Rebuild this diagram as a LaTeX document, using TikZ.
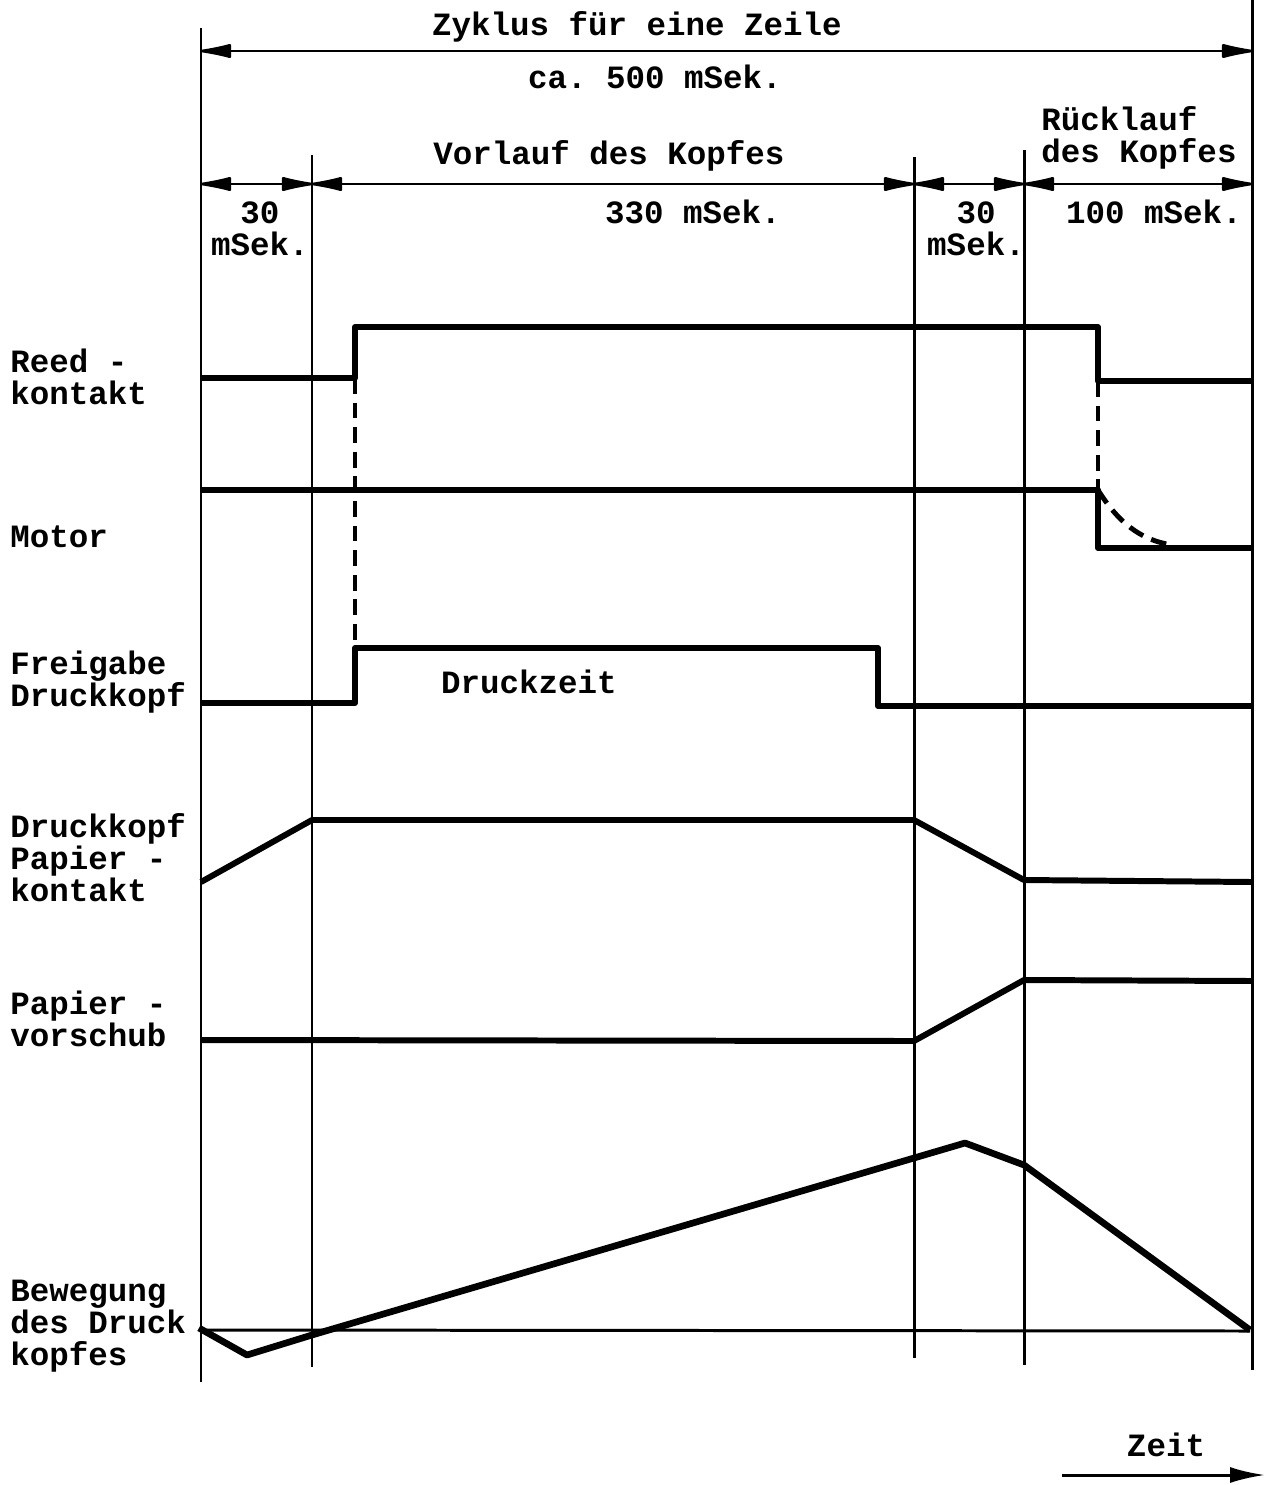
\documentclass[tikz,border=0pt]{standalone}
\usepackage{fontspec}
\setmonofont{Liberation Mono}
\usetikzlibrary{arrows.meta}
\tikzset{
  gridline/.style={draw=black,line width=1.7pt},
  sig/.style={draw=black,line width=3.4pt,line join=round},
  sigdash/.style={draw=black,line width=2.2pt,dash pattern=on 9pt off 5pt},
  dimline/.style={draw=black,line width=1.6pt,{Latex[length=8mm,width=3mm,round]}-{Latex[length=8mm,width=3mm,round]}},
  timearrow/.style={draw=black,line width=1.7pt,-{Latex[length=7mm,width=3.2mm]}},
  lbl/.style={font=\ttfamily\bfseries\fontsize{18.5}{18.2}\selectfont,inner sep=0pt,align=left}
}

\begin{document}
\begin{tikzpicture}[x=0.02cm,y=-0.02cm]
  \useasboundingbox (0,0) rectangle (1267,1485);
  \draw[gridline] (201,28)--(201,1382);
  \draw[gridline] (312,155)--(312,1367);
  \draw[gridline] (914,157)--(914,1358);
  \draw[gridline] (1024,150)--(1024,1365);
  \draw[gridline] (1252,0)--(1252,1370);
  \draw[dimline] (201,51)--(1252,51);
  \draw[dimline] (201,184)--(312,184);
  \draw[dimline] (312,184)--(914,184);
  \draw[dimline] (914,184)--(1024,184);
  \draw[dimline] (1024,184)--(1252,184);
  \node[lbl] (zyklus) at (637,27) {Zyklus für eine Zeile};
  \node[lbl] (total) at (655,77) {ca. 500 mSek.};
  \node[lbl] (vorlauf) at (609,156) {Vorlauf des Kopfes};
  \node[lbl] (ruecklauf) at (1139,138) {Rücklauf\\des Kopfes};
  \node[lbl,align=center] (tA) at (260,229) {30\\mSek.};
  \node[lbl] (tB) at (693,212) {330 mSek.};
  \node[lbl,align=center] (tC) at (976,229) {30\\mSek.};
  \node[lbl] (tD) at (1154,212) {100 mSek.};
  \node[lbl,anchor=west] (reed) at (10,377) {Reed -\\kontakt};
  \node[lbl,anchor=west] (motor) at (10,537) {Motor};
  \node[lbl,anchor=west] (freigabe) at (10,682) {Freigabe\\Druckkopf};
  \node[lbl,anchor=west] (kontakt) at (10,858) {Druckkopf\\Papier -\\kontakt};
  \node[lbl,anchor=west] (vorschub) at (10,1019) {Papier -\\vorschub};
  \node[lbl,anchor=west] (bewegung) at (10,1326) {Bewegung\\des Druck\\kopfes};
  \node[lbl] (druckzeit) at (529,682) {Druckzeit};
  \draw[sig] (201,378)--(355,378)--(355,327)--(1098,327)--(1098,381)--(1252,381);
  \draw[sig] (201,490)--(1098,490)--(1098,548)--(1252,548);
  \draw[sigdash] (355,378)--(355,648);
  \draw[sigdash] (1098,381)--(1098,490);
  \draw[sigdash,line width=2.8pt] (1098,490) .. controls (1118,522) and (1140,540) .. (1172,545);
  \draw[sig] (201,703)--(355,703)--(355,648)--(878,648)--(878,706)--(1252,706);
  \draw[sig] (201,882)--(312,820)--(914,820)--(1024,880)--(1252,882);
  \draw[sig] (201,1040)--(914,1041)--(1024,980)--(1252,981);
  \draw[gridline] (199,1330)--(1250,1331);
  \draw[sig,line width=3.8pt] (199,1328)--(247,1355)--(312,1335)--(965,1143)--(1024,1165)--(1250,1330);
  \node[lbl] (zeit) at (1166,1445) {Zeit};
  \coordinate (tstart) at (1062,1475);
  \coordinate (tend) at (1265,1475);
  \draw[timearrow] (tstart)--(tend);
\end{tikzpicture}
\end{document}
